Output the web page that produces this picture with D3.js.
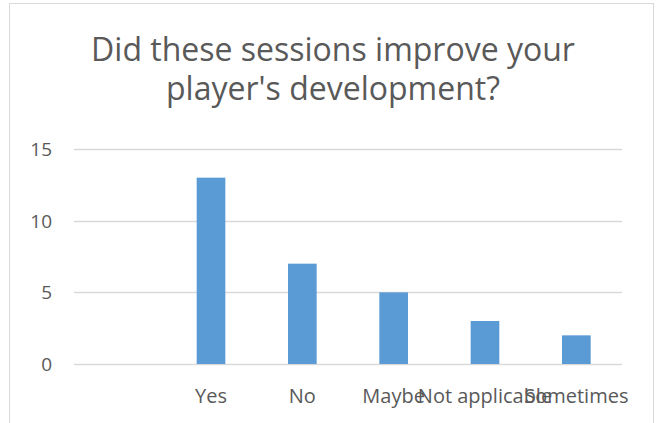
<!DOCTYPE html>
<html>
<head>
<meta charset="utf-8">
<script src="https://cdn.jsdelivr.net/npm/d3@7"></script>
<style>
  body { margin: 0; background: #fff; }
  text { font-family: "Open Sans", sans-serif; fill: #595959; }
</style>
</head>
<body>
<svg id="vis" width="658" height="423"></svg>
<script>
let categories = ["", "Yes", "No", "Maybe", "Not applicable", "Sometimes"];
let counts = [0, 13, 7, 5, 3, 2];
let yTicks = [0, 5, 10, 15];
let titleLines = ["Did these sessions improve your", "player's development?"];

let svg = d3.select("#vis");

// chart frame
svg.append("rect")
  .attr("x", 9.5).attr("y", 3.5)
  .attr("width", 644).attr("height", 440)
  .attr("fill", "#fff")
  .attr("stroke", "#d9d9d9");

let title = svg.append("text")
  .attr("text-anchor", "middle")
  .style("font-size", "32px");
title.selectAll("tspan")
  .data(titleLines)
  .enter()
  .append("tspan")
  .attr("x", 333)
  .attr("y", (d, i) => 61 + i * 39)
  .text(d => d);

let x = d3.scaleBand()
  .domain(categories)
  .range([74, 622])
  .paddingInner(0.686)
  .paddingOuter(0.343);

let y = d3.scaleLinear()
  .domain([0, 15])
  .range([364, 149]);

// gridlines
svg.append("g")
  .selectAll("line")
  .data(yTicks)
  .enter()
  .append("line")
  .attr("x1", 74).attr("x2", 622)
  .attr("y1", d => Math.round(y(d)) + 0.5)
  .attr("y2", d => Math.round(y(d)) + 0.5)
  .attr("stroke", "#d9d9d9")
  .attr("stroke-width", 1.5);

// y labels
svg.append("g")
  .selectAll("text")
  .data(yTicks)
  .enter()
  .append("text")
  .attr("x", 52)
  .attr("y", d => y(d) + 7)
  .attr("text-anchor", "end")
  .style("font-size", "19px")
  .text(d => d);

// bars
svg.append("g")
  .selectAll("rect")
  .data(counts)
  .enter()
  .append("rect")
  .attr("x", (d, i) => x(categories[i]))
  .attr("width", x.bandwidth())
  .attr("y", d => y(d))
  .attr("height", d => y(0) - y(d))
  .attr("fill", "#5b9bd5");

// category labels (overlap as in the original)
svg.append("g")
  .selectAll("text")
  .data(categories)
  .enter()
  .append("text")
  .attr("x", d => x(d) + x.bandwidth() / 2)
  .attr("y", 403)
  .attr("text-anchor", "middle")
  .style("font-size", "20px")
  .text(d => d);
</script>
</body>
</html>
